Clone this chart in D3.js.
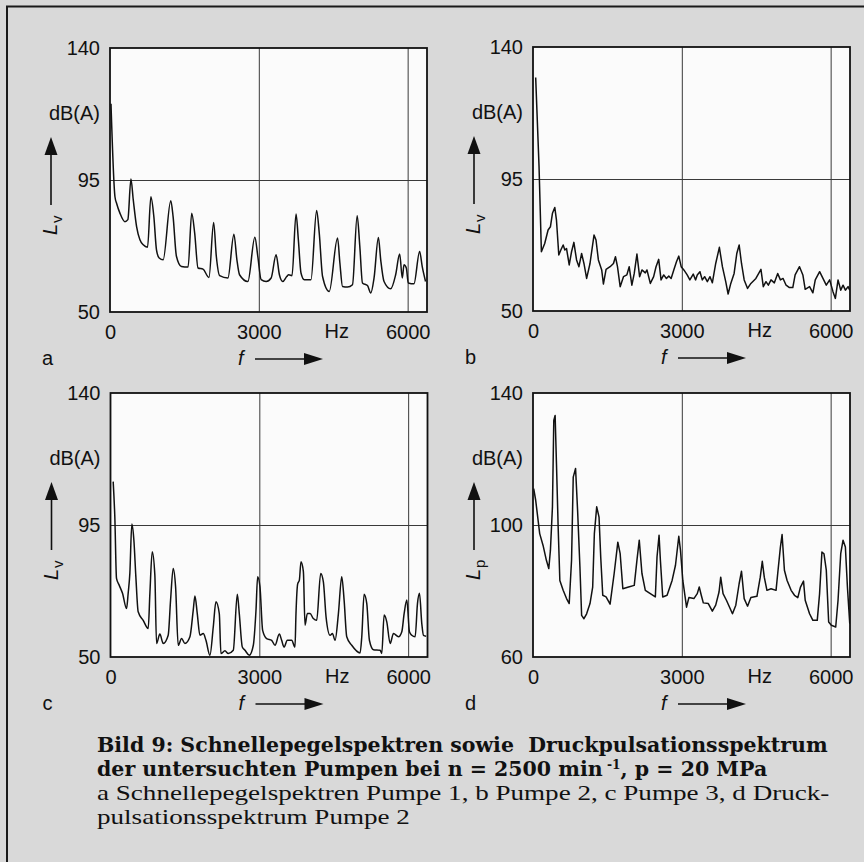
<!DOCTYPE html>
<html>
<head>
<meta charset="utf-8">
<script src="https://cdn.jsdelivr.net/npm/d3@7"></script>
<style>
  body { margin: 0; background: #d9d9d9; }
  svg { display: block; }
  .lab { font-family: "Liberation Sans", Arial, sans-serif; font-size: 20px; fill: #111; }
  .tick text { font-family: "Liberation Sans", Arial, sans-serif; font-size: 20px; fill: #111; }
</style>
</head>
<body>
<div id="chart"></div>
<script>
/// Data: [frequency Hz, level dB] ///
var spectrumA = [[20,121],[100,89.3],[134,87],[200,83.7],[300,80.8],[360,81.5],[422,95.3],[469,88.2],[536,79.1],[603,74.6],[670,72.9],[757,72.1],[824,89.3],[884,82.5],[937,71.2],[991,68.4],[1071,67.8],[1225,87.9],[1272,82.5],[1339,69],[1440,65.5],[1574,65.3],[1647,83.7],[1707,76.9],[1774,65],[1875,64.6],[1995,61.8],[2089,80.5],[2143,69],[2210,62.4],[2377,61.6],[2498,76.5],[2558,67.8],[2611,62.7],[2779,60.4],[2920,75.5],[2980,68.9],[3047,61],[3147,60.4],[3248,61.6],[3348,69.5],[3415,62.7],[3482,60.4],[3562,62.1],[3603,62.7],[3669,62.4],[3750,83.4],[3797,74.6],[3850,63.3],[3917,61],[4051,61],[4165,84.6],[4218,76.9],[4285,62.1],[4419,57],[4587,75.2],[4634,66.7],[4687,58.7],[4788,58.5],[4888,59.3],[4982,82.8],[5036,72.3],[5089,59.9],[5190,59],[5257,56.5],[5323,61.6],[5410,75.4],[5457,67.8],[5524,60.4],[5658,57.9],[5758,62.7],[5839,69.8],[5892,61.6],[5926,66.1],[5973,65],[6013,59.9],[6127,59.6],[6241,70.6],[6294,65.5],[6361,60.4]];

var spectrumB = [[54,129.6],[122,99.1],[169,70.2],[236,73],[304,77.6],[351,78.7],[392,83.3],[439,85.3],[473,81],[520,69.1],[561,70.8],[608,72.5],[642,70.8],[676,71.3],[730,65.7],[777,70.2],[824,73.4],[878,67.4],[926,65.1],[980,69.6],[1027,66.2],[1081,61.1],[1149,66.2],[1230,75.9],[1270,74.2],[1318,67.4],[1385,64],[1419,59.2],[1473,64.2],[1554,65.1],[1622,66.2],[1662,68.5],[1703,65.1],[1757,58.3],[1824,61.7],[1892,62.3],[1939,65.1],[1993,58.8],[2041,62.8],[2095,69.4],[2149,61.7],[2196,64],[2264,63],[2297,64],[2365,59.4],[2432,61.7],[2480,65.1],[2534,67.6],[2581,60.6],[2635,62.3],[2689,61.1],[2737,61.9],[2784,61.1],[2838,64],[2892,66.8],[2939,68.7],[2987,65.1],[3041,64],[3108,62.3],[3162,60.6],[3230,62.6],[3277,60.6],[3311,62.3],[3365,63.4],[3412,60.6],[3460,61.7],[3514,60],[3568,61.7],[3615,59.6],[3683,66.2],[3757,71.7],[3818,65.1],[3885,60],[3933,55.8],[3987,59.4],[4054,62.8],[4108,69.6],[4156,72.5],[4203,66.2],[4257,60.6],[4325,57.7],[4392,59.4],[4493,61.1],[4595,64.2],[4642,58.3],[4696,60],[4744,58.8],[4798,60.6],[4865,59.6],[4933,62.8],[4987,60.6],[5041,61.1],[5102,58.8],[5169,58],[5237,58],[5284,62.3],[5372,65.1],[5440,62.3],[5487,57.4],[5575,58.3],[5642,56.2],[5690,60.6],[5778,63.4],[5845,61.1],[5912,58.8],[5980,60.6],[6047,56.6],[6095,54.3],[6149,60.6],[6203,57.1],[6250,58.8],[6297,57.1],[6351,58.3],[6385,57.1]];

var spectrumC = [[54,109.8],[87,97.8],[121,76.8],[175,74.5],[242,71.7],[323,66.5],[356,71.7],[390,78.5],[430,95.3],[471,89.9],[511,77.4],[558,65.4],[659,62.5],[760,59.7],[794,71.7],[841,85.9],[894,77.9],[928,54.6],[995,57.8],[1063,54.6],[1163,57.4],[1211,69.4],[1264,80.2],[1312,73.9],[1365,54],[1433,56.3],[1500,54.6],[1601,56.9],[1668,66],[1702,70.8],[1749,64.8],[1803,57.4],[1870,58],[1924,55.7],[2004,50.6],[2072,60.3],[2125,68.8],[2193,64.8],[2226,51.2],[2307,52.1],[2374,51.2],[2475,52.3],[2556,71.4],[2596,64.8],[2657,53.4],[2711,52.3],[2798,50.6],[2879,54],[2933,66],[2966,77.4],[3013,73.9],[3067,59.1],[3148,56.3],[3249,55.7],[3316,54],[3403,57.8],[3450,55.7],[3497,53.4],[3565,55.7],[3652,55.7],[3719,53.4],[3739,64.8],[3773,74.9],[3807,76.2],[3840,82.5],[3888,79.1],[3921,60.8],[3968,64.8],[4022,64.8],[4089,63.1],[4156,62.5],[4237,78.5],[4291,75.6],[4345,63.7],[4426,57.4],[4473,58],[4527,55.7],[4594,64.8],[4661,77.4],[4709,69.4],[4762,56.9],[4863,54],[5031,51.4],[5065,56.9],[5112,71.4],[5166,68.2],[5219,55.7],[5300,52.5],[5435,52.3],[5468,51.2],[5516,64.3],[5569,62],[5637,54.6],[5704,58],[5805,56.9],[5872,58.6],[5919,64.8],[5973,69.4],[6026,58.6],[6073,57.4],[6141,56.9],[6188,68.2],[6228,71.7],[6275,61.4],[6309,57.4],[6363,57.1]];

var spectrumD = [[14,111],[54,107.5],[135,97.4],[203,93.8],[270,89.3],[318,86.8],[351,92.3],[392,105.5],[419,131.7],[446,133.2],[473,118.6],[507,99.4],[541,83.2],[608,80.2],[676,77.7],[730,76.2],[777,89.3],[811,114.5],[858,117.1],[899,104.4],[946,87.3],[980,72.6],[1027,71.6],[1081,73.1],[1149,76.2],[1203,81.2],[1237,97.4],[1284,105.5],[1331,102.4],[1365,90.3],[1406,78.7],[1473,78.2],[1554,76],[1636,85.3],[1710,94.8],[1757,91.3],[1811,80.7],[1926,81.2],[2041,81.7],[2095,89.3],[2142,95.4],[2196,85.3],[2264,80.2],[2365,79.2],[2466,78.2],[2500,90.3],[2541,96.9],[2568,89.3],[2615,78.2],[2703,78.7],[2804,83.2],[2872,87.8],[2939,96.6],[2973,92.3],[3020,83.2],[3095,75.1],[3142,78],[3243,77.7],[3311,79.2],[3351,81.2],[3392,78.7],[3433,76.4],[3534,76.2],[3615,73.9],[3683,75.7],[3750,79.7],[3784,84.2],[3831,79.2],[3899,77.2],[4021,73.1],[4088,75.7],[4155,82.2],[4203,86],[4257,77.7],[4325,75.4],[4392,78],[4514,78.4],[4581,84.2],[4622,89],[4662,84.2],[4716,80.2],[4798,80.7],[4899,80.2],[4933,85.3],[4987,93.3],[5021,97.1],[5068,86.3],[5122,83.2],[5203,80.2],[5271,78.7],[5338,78],[5392,81.2],[5453,83],[5487,77.2],[5575,73.1],[5642,71.1],[5730,71.1],[5777,79.2],[5824,91.8],[5865,91.3],[5912,86.3],[5960,70.6],[6014,69.6],[6102,69.1],[6149,77.2],[6203,91.3],[6250,95.4],[6297,93.3],[6338,81.2],[6385,70.1]];

/// Tick labels ///
var freqTicks = [0, 3000, 6000];
var freqGrid = [3000, 6000];
var ticksLv = [50, 95, 140];
var ticksLp = [60, 100, 140];
var panelLetters = ["a", "b", "c", "d"];

var captionBold = ["Bild 9: Schnellepegelspektren sowie\u00a0 Druckpulsationsspektrum",
                   "der untersuchten Pumpen bei n = 2500 min"];
var captionPlain = ["a Schnellepegelspektren Pumpe 1, b Pumpe 2, c Pumpe 3, d Druck-",
                    "pulsationsspektrum Pumpe 2"];

/// Layout ///
var svgWidth = 864, svgHeight = 862;
var boxWidth = 317, boxHeight = 264;
var fMax = 6390;

var panels = [
  { data: spectrumA, ticks: ticksLv, sub: "v", smooth: true,  left: 110,   top: 48 },
  { data: spectrumB, ticks: ticksLv, sub: "v", smooth: false, left: 533,   top: 47 },
  { data: spectrumC, ticks: ticksLv, sub: "v", smooth: true,  left: 110.5, top: 393 },
  { data: spectrumD, ticks: ticksLp, sub: "p", smooth: false, left: 533,   top: 393 }
];

var svg = d3.select("#chart").append("svg")
  .attr("width", svgWidth)
  .attr("height", svgHeight);

// outer frame (only left and top edges are in the picture)
svg.append("path")
  .attr("d", "M7," + svgHeight + "V6.5H" + svgWidth)
  .attr("fill", "none")
  .attr("stroke", "#1a1a1a")
  .attr("stroke-width", 2);

panels.forEach(function (p, i) {
  var g = svg.append("g").attr("transform", `translate(${p.left}, ${p.top})`);

  var x = d3.scaleLinear().domain([0, fMax]).range([0, boxWidth]);
  var y = d3.scaleLinear().domain([p.ticks[0], p.ticks[2]]).range([boxHeight, 0]);

  g.append("rect")
    .attr("width", boxWidth).attr("height", boxHeight)
    .attr("fill", "#fbfbfb");

  // grid lines
  var gx = g.append("g").attr("transform", `translate(0, ${boxHeight})`)
    .call(d3.axisBottom(x).tickValues(freqGrid).tickSize(-boxHeight).tickFormat(""));
  var gy = g.append("g")
    .call(d3.axisLeft(y).tickValues([p.ticks[1]]).tickSize(-boxWidth).tickFormat(""));
  [gx, gy].forEach(function (a) {
    a.select(".domain").remove();
    a.selectAll("line").attr("stroke", "#3a3a3a").attr("stroke-width", 1);
  });

  // spectrum
  g.append("clipPath").attr("id", "clip" + i)
    .append("rect").attr("width", boxWidth).attr("height", boxHeight);
  g.append("path")
    .datum(p.data)
    .attr("clip-path", `url(#clip${i})`)
    .attr("fill", "none")
    .attr("stroke", "#111")
    .attr("stroke-width", 1.5)
    .attr("stroke-linejoin", "round")
    .attr("d", d3.line()
      .curve(p.smooth ? d3.curveMonotoneX : d3.curveLinear)
      .x(d => x(d[0])).y(d => y(d[1])));

  g.append("rect")
    .attr("width", boxWidth).attr("height", boxHeight)
    .attr("fill", "none").attr("stroke", "#111").attr("stroke-width", 1.8);

  // tick labels
  var ax = g.append("g").attr("transform", `translate(0, ${boxHeight})`)
    .call(d3.axisBottom(x).tickValues(freqTicks).tickFormat(d3.format("d")).tickSize(0).tickPadding(13));
  var ay = g.append("g")
    .call(d3.axisLeft(y).tickValues(p.ticks).tickSize(0).tickPadding(10));
  [ax, ay].forEach(function (a) { a.select(".domain").remove(); });

  g.append("text").attr("class", "lab")
    .attr("x", x(4570)).attr("y", boxHeight + 26)
    .attr("text-anchor", "middle").text("Hz");

  g.append("text").attr("class", "lab")
    .attr("x", -10).attr("y", 72)
    .attr("text-anchor", "end").text("dB(A)");

  // level arrow
  g.append("line")
    .attr("x1", -59).attr("x2", -59).attr("y1", 157).attr("y2", 104)
    .attr("stroke", "#111").attr("stroke-width", 1.6);
  g.append("path")
    .attr("d", "M-59,89L-65.5,107L-52.5,107Z").attr("fill", "#111");

  var yl = g.append("text").attr("class", "lab")
    .attr("transform", "translate(-53, 187) rotate(-90)");
  yl.append("tspan").attr("font-style", "italic").text("L");
  yl.append("tspan").attr("font-size", "15px").attr("dx", 1).attr("dy", 5).text(p.sub);

  // panel letter and frequency arrow
  g.append("text").attr("class", "lab")
    .attr("x", -68).attr("y", boxHeight + 53).text(panelLetters[i]);
  g.append("text").attr("class", "lab").attr("font-style", "italic")
    .attr("x", 128).attr("y", boxHeight + 53).text("f");
  g.append("line")
    .attr("x1", 145).attr("x2", 196).attr("y1", boxHeight + 47).attr("y2", boxHeight + 47)
    .attr("stroke", "#111").attr("stroke-width", 1.6);
  g.append("path")
    .attr("d", `M213,${boxHeight + 47}L194,${boxHeight + 41}L194,${boxHeight + 53}Z`)
    .attr("fill", "#111");
});

/// Caption ///
var cap = svg.append("g").attr("transform", "translate(97, 0)");

var bold = cap.append("g")
  .style("font-family", "'DejaVu Serif', serif")
  .style("font-weight", "bold").style("font-size", "20px").style("fill", "#111");
var b1 = bold.append("text").attr("y", 752).text(captionBold[0]);
var b2 = bold.append("text").attr("y", 776);
b2.append("tspan").text(captionBold[1]);
b2.append("tspan").attr("font-size", "12px").attr("dy", -7).text(" -1");
b2.append("tspan").attr("dy", 7).text(", p = 20 MPa");

var plain = cap.append("g")
  .style("font-family", "'Liberation Serif', serif")
  .style("font-size", "21.5px").style("fill", "#111");
var p1 = plain.append("text").attr("y", 800).text(captionPlain[0]);
plain.append("text").attr("y", 824).text(captionPlain[1]);

// squeeze the caption fonts horizontally to the printed widths
var sb = 731 / b1.node().getComputedTextLength();
bold.attr("transform", `scale(${sb}, 1)`);
var sp = 733 / p1.node().getComputedTextLength();
plain.attr("transform", `scale(${sp}, 1)`);
</script>
</body>
</html>
